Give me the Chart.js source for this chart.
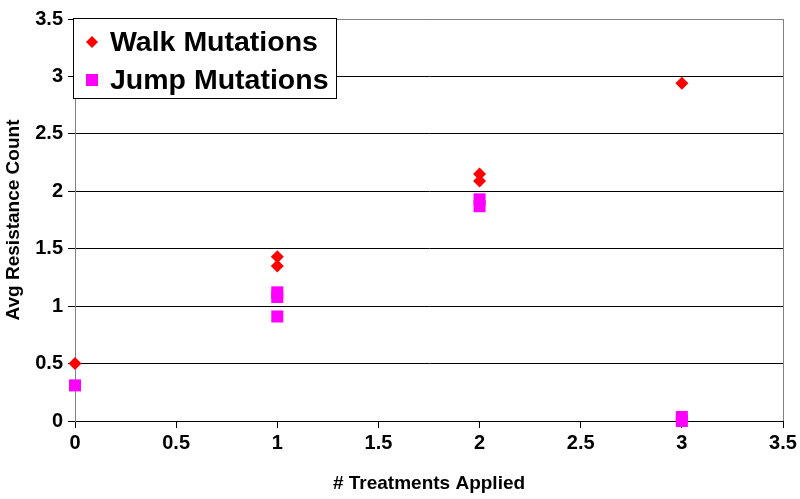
<!DOCTYPE html>
<html>
<head>
<meta charset="utf-8">
<script src="https://cdn.jsdelivr.net/npm/chart.js@4/dist/chart.umd.min.js"></script>
<style>
  html, body { margin: 0; padding: 0; background: #ffffff; }
  #wrap { width: 800px; height: 499px; }
</style>
</head>
<body>
<div id="wrap"><canvas id="c" width="800" height="499"></canvas></div>
<script>
// ---- data ----
const seriesNames = ["Walk Mutations", "Jump Mutations"];
const walkX = [0, 1, 1, 2, 2, 3, 3];
const walkY = [0.5, 1.43, 1.35, 2.15, 2.09, 2.94, 0];
const jumpX = [0, 1, 1, 1, 2, 2, 3, 3];
const jumpY = [0.31, 1.12, 1.08, 0.91, 1.93, 1.87, 0.035, 0];
const xTicks = [0, 0.5, 1, 1.5, 2, 2.5, 3, 3.5];
const yTicks = [0, 0.5, 1, 1.5, 2, 2.5, 3, 3.5];
const xTitle = "# Treatments Applied";
const yTitle = "Avg Resistance Count";

const FONT = "'Liberation Sans', Arial, sans-serif";
const toPts = (xs, ys) => xs.map((x, i) => ({ x: x, y: ys[i] }));

const boxLegend = {
  id: 'boxLegend',
  afterDatasetsDraw(chart) {
    const ctx = chart.ctx;
    ctx.save();
    const bx = 73.5, by = 18.5, bw = 263, bh = 80;
    ctx.fillStyle = '#ffffff';
    ctx.fillRect(bx, by, bw, bh);
    ctx.strokeStyle = '#000000';
    ctx.lineWidth = 1;
    ctx.strokeRect(bx, by, bw, bh);
    const rows = [42, 80];
    chart.data.datasets.forEach((ds, i) => {
      const y = rows[i];
      Chart.helpers.drawPoint(ctx, {
        pointStyle: ds.pointStyle,
        radius: ds.legendRadius,
        borderWidth: 0
      }, 92, y);
      ctx.fillStyle = ds.backgroundColor;
      ctx.fill();
      ctx.fillStyle = '#000000';
      ctx.font = 'bold 28.5px ' + FONT;
      ctx.textBaseline = 'middle';
      ctx.textAlign = 'left';
      ctx.fillText(ds.label, 110, y + 1);
    });
    ctx.restore();
  }
};

new Chart(document.getElementById('c'), {
  type: 'scatter',
  data: {
    datasets: [
      {
        label: seriesNames[0],
        data: toPts(walkX, walkY),
        order: 2,
        pointStyle: 'rectRot',
        pointRadius: 6.5,
        legendRadius: 6,
        pointHoverRadius: 6.5,
        backgroundColor: '#ff0000',
        borderColor: '#ff0000',
        borderWidth: 0,
        clip: false
      },
      {
        label: seriesNames[1],
        data: toPts(jumpX, jumpY),
        order: 1,
        pointStyle: 'rect',
        pointRadius: 8.5,
        legendRadius: 8.5,
        pointHoverRadius: 8.5,
        backgroundColor: '#ff00ff',
        borderColor: '#ff00ff',
        borderWidth: 0,
        clip: false
      }
    ]
  },
  options: {
    responsive: false,
    animation: false,
    layout: { padding: { left: 0, top: 19, right: 17, bottom: 0 } },
    plugins: {
      legend: { display: false },
      tooltip: { enabled: false }
    },
    scales: {
      x: {
        type: 'linear',
        min: 0, max: 3.5,
        afterBuildTicks: (s) => { s.ticks = xTicks.map(v => ({ value: v })); },
        afterFit: (s) => { s.height = 78; },
        ticks: {
          color: '#000000',
          font: { family: FONT, size: 20, weight: 'bold' },
          padding: 3,
          maxRotation: 0,
          callback: (v) => String(v)
        },
        grid: {
          color: (c) => (c.tick && c.tick.value === 3.5) ? '#808080' : 'rgba(0,0,0,0)',
          tickColor: '#000000',
          tickLength: 7,
          lineWidth: 1
        },
        border: { display: true, color: '#000000', width: 1 },
        title: {
          display: true,
          text: xTitle,
          color: '#000000',
          font: { family: FONT, size: 19, weight: 'bold' },
          padding: { top: 4, bottom: 4 }
        }
      },
      y: {
        type: 'linear',
        min: 0, max: 3.5,
        afterBuildTicks: (s) => { s.ticks = yTicks.map(v => ({ value: v })); },
        afterFit: (s) => { s.width = 75; },
        ticks: {
          color: '#000000',
          font: { family: FONT, size: 20, weight: 'bold' },
          padding: 5,
          callback: (v) => String(v)
        },
        grid: {
          color: (c) => (c.tick && c.tick.value === 3.5) ? '#808080' : '#000000',
          tickColor: '#000000',
          tickLength: 7,
          lineWidth: 1
        },
        border: { display: true, color: '#808080', width: 1 },
        title: {
          display: true,
          text: yTitle,
          color: '#000000',
          font: { family: FONT, size: 19, weight: 'bold' },
          padding: { top: 2, bottom: 0 }
        }
      }
    }
  },
  plugins: [boxLegend]
});
</script>
</body>
</html>
